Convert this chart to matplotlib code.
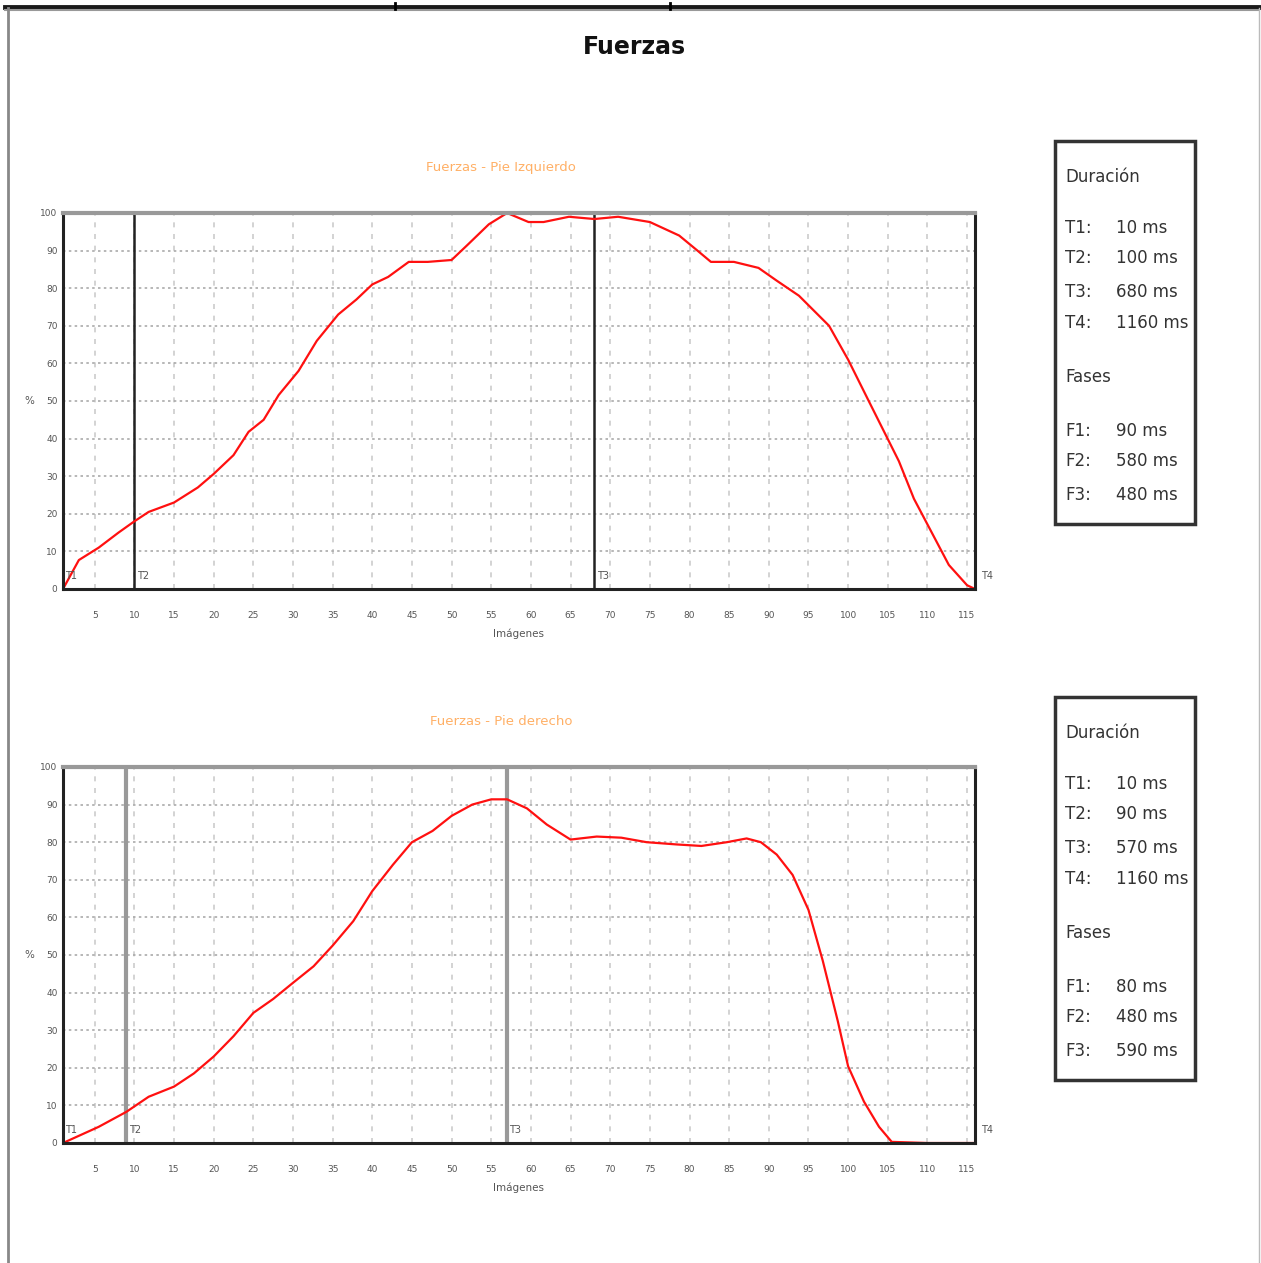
import numpy as np
import matplotlib
matplotlib.use("Agg")
import matplotlib.pyplot as plt
from matplotlib.lines import Line2D
from matplotlib.patches import Rectangle

# Datos (imágenes, % de fuerza)
izq_x = [1, 3, 5.5, 8, 10, 11.8, 15, 18, 20, 22.5, 24.4, 26.3, 28.2, 30.7, 33, 35.7,
         38, 40, 42, 44.6, 47, 50, 52, 54.7, 57, 59.7, 61.6, 64.8, 68, 71, 75, 78.7,
         81, 82.7, 85.6, 88.7, 91, 93.8, 95.7, 97.6, 100, 102.6, 104.5, 106.4, 108.3,
         110.8, 112.7, 115, 116]
izq_y = [0, 7.7, 11, 15, 18, 20.5, 23, 27, 30.6, 35.6, 41.8, 45, 51.6, 58, 66, 73,
         77, 81, 83, 87, 87, 87.5, 91.5, 97, 100, 97.6, 97.6, 99, 98.4, 99, 97.6, 94,
         90, 87, 87, 85.4, 82, 78, 74, 70, 61, 50, 42, 34, 24, 14, 6.4, 1, 0]

der_x = [1, 5.5, 9, 11.8, 15, 17.5, 20, 22.5, 25, 27.5, 30, 32.6, 35, 37.6, 40, 42.6,
         45, 47.6, 50, 52.6, 55, 57, 59.5, 62, 65, 68.3, 71.4, 74.6, 78.4, 81.5, 84.7,
         87.2, 89, 91, 93, 95, 96.8, 98.7, 100, 102, 103.9, 105.5, 110, 116]
der_y = [0, 4.3, 8.3, 12.3, 15, 18.5, 23, 28.4, 34.6, 38.3, 42.6, 47, 52.5, 59, 67, 74,
         80, 83, 87, 90, 91.4, 91.4, 89, 84.7, 80.7, 81.5, 81.2, 80, 79.4, 79, 80,
         81, 80, 76.7, 71.3, 62, 48.5, 32.4, 20.4, 11, 4.3, 0.3, 0, 0]

subtitulos = ["Fuerzas - Pie Izquierdo", "Fuerzas - Pie derecho"]
marcas_izq = [1, 10, 68, 116]   # T1..T4
marcas_der = [1, 9, 57, 116]
tiempos_izq = ["10 ms", "100 ms", "680 ms", "1160 ms"]
fases_izq = ["90 ms", "580 ms", "480 ms"]
tiempos_der = ["10 ms", "90 ms", "570 ms", "1160 ms"]
fases_der = ["80 ms", "480 ms", "590 ms"]

W, H = 1261, 1263
fig = plt.figure(figsize=(W / 100, H / 100), dpi=100)
narrow = ["Liberation Sans Narrow", "DejaVu Sans"]


def fx(px):
    return px / W


def fy(py):
    return 1 - py / H


# marco de la figura
fig.add_artist(Line2D([fx(5), fx(1259)], [fy(7), fy(7)], color="#1a1a1a", lw=3.5))
fig.add_artist(Line2D([fx(5), fx(1259)], [fy(10), fy(10)], color="#999999", lw=1.5))
fig.add_artist(Line2D([fx(8), fx(8)], [fy(8), fy(1263)], color="#888888", lw=2))
fig.add_artist(Line2D([fx(1259), fx(1259)], [fy(8), fy(1263)], color="#bbbbbb", lw=1))
for px in [395, 670]:
    fig.add_artist(Line2D([fx(px), fx(px)], [fy(3), fy(9)], color="black", lw=2))

fig.text(0.503, fy(47), "Fuerzas", ha="center", va="center", fontsize=17,
         fontweight="bold", color="#111111")


def panel(top, xs, ys, subt, marcas, color_v, lw_v, tiempos, fases, box_top):
    ax = fig.add_axes([fx(63), fy(top + 376), fx(975) - fx(63), fy(top) - fy(top + 376)])
    ax.set_xlim(1, 116)
    ax.set_ylim(0, 100)
    ax.set_xticks(np.arange(5, 116, 5))
    ax.set_yticks(np.arange(0, 101, 10))
    ax.set_xticklabels([str(v) for v in range(5, 116, 5)], fontsize=6.5,
                       family=narrow, color="#555555")
    ax.set_yticklabels([str(v) for v in range(0, 101, 10)], fontsize=6.5,
                       family=narrow, color="#555555")
    ax.tick_params(axis="both", length=0, pad=16)
    ax.tick_params(axis="y", pad=4)
    ax.grid(True, axis="y", color="#aaaaaa", ls=(0, (1.5, 2)), lw=1.2)
    ax.grid(True, axis="x", color="#cccccc", ls=(0, (3, 4)), lw=1.2)
    for s in ["left", "bottom", "right"]:
        ax.spines[s].set_color("#222222")
        ax.spines[s].set_linewidth(2.2)
    ax.spines["top"].set_color("#999999")
    ax.spines["top"].set_linewidth(3)
    ax.set_xlabel("Imágenes", fontsize=7.5, family=narrow, color="#555555", labelpad=6)
    ax.set_ylabel("%", fontsize=7.5, color="#555555", rotation=0, labelpad=8, va="center")
    for m in marcas[1:3]:
        ax.axvline(m, color=color_v, lw=lw_v)
    ax.plot(xs, ys, color="#ff1010", lw=1.6)
    for i, m in enumerate(marcas):
        xt = m + 0.3 if i < 3 else m + 0.8
        ax.text(xt, 2, "T%d" % (i + 1), fontsize=7, family=narrow, color="#555555",
                ha="left", va="bottom", clip_on=False)
    ax.set_title(subt, fontsize=9.5, family=narrow, color="#ffb066", pad=30, x=0.48)

    # cuadro de duraciones
    b = Rectangle((fx(1055), fy(box_top + 383)), fx(1195) - fx(1055),
                  fy(box_top) - fy(box_top + 383), transform=fig.transFigure,
                  fill=False, ec="#333333", lw=2.5)
    fig.add_artist(b)
    tx = fx(1065)
    vx = fx(1116)
    fig.text(tx, fy(box_top + 36), "Duración", fontsize=12, color="#333333", va="center")
    filas = [87, 117, 151, 182]
    for i, t in enumerate(tiempos):
        fig.text(tx, fy(box_top + filas[i]), "T%d:" % (i + 1), fontsize=12,
                 color="#333333", va="center")
        fig.text(vx, fy(box_top + filas[i]), t, fontsize=12, color="#333333", va="center")
    fig.text(tx, fy(box_top + 236), "Fases", fontsize=12, color="#333333", va="center")
    filas = [290, 320, 354]
    for i, f in enumerate(fases):
        fig.text(tx, fy(box_top + filas[i]), "F%d:" % (i + 1), fontsize=12,
                 color="#333333", va="center")
        fig.text(vx, fy(box_top + filas[i]), f, fontsize=12, color="#333333", va="center")
    return ax


panel(213, izq_x, izq_y, subtitulos[0], marcas_izq, "#222222", 1.8,
      tiempos_izq, fases_izq, 141)
panel(767, der_x, der_y, subtitulos[1], marcas_der, "#999999", 3,
      tiempos_der, fases_der, 697)

fig.savefig("out.png", dpi=100)
